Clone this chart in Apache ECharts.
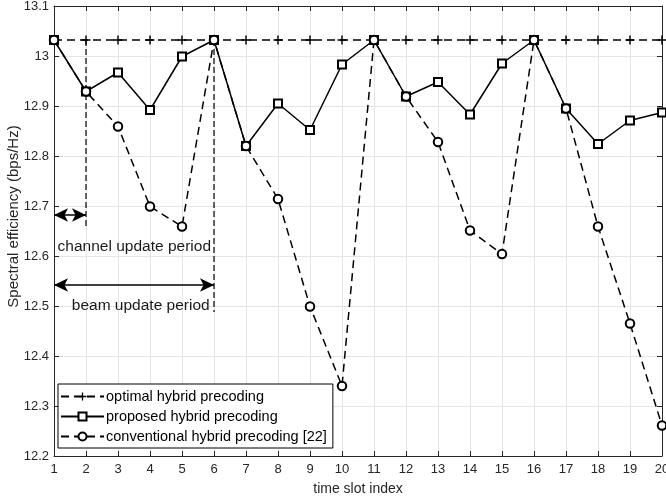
<!DOCTYPE html>
<html>
<head>
<meta charset="utf-8">
<script src="https://cdn.jsdelivr.net/npm/echarts@6/dist/echarts.min.js"></script>
<style>html,body{margin:0;padding:0;background:#fff;overflow:hidden}#c{width:666px;height:502px}</style>
</head>
<body>
<div id="c"></div>
<script>
const slots = [1,2,3,4,5,6,7,8,9,10,11,12,13,14,15,16,17,18,19,20];
const optimal = [13.032,13.032,13.032,13.032,13.032,13.032,13.032,13.032,13.032,13.032,13.032,13.032,13.032,13.032,13.032,13.032,13.032,13.032,13.032,13.032];
const proposed = [13.032,12.929,12.967,12.892,12.999,13.032,12.820,12.905,12.852,12.983,13.032,12.919,12.948,12.883,12.985,13.032,12.895,12.824,12.871,12.887];
const conventional = [13.032,12.929,12.859,12.699,12.659,13.032,12.820,12.714,12.499,12.340,13.032,12.919,12.828,12.651,12.604,13.032,12.895,12.659,12.465,12.261];
const seriesNames = ['optimal hybrid precoding','proposed hybrid precoding','conventional hybrid precoding [22]'];

// annotations
const channelLineX = [2,2], channelLineY = [13.032,12.66];
const beamLineX = [6,6], beamLineY = [13.032,12.488];
const channelArrowX = [1,2], channelArrowY = 12.682;
const beamArrowX = [1,6], beamArrowY = 12.542;
const annTexts = ['channel update period','beam update period'];
const annX = [3.51,3.71], annY = [12.618,12.5];

const pair = (xs, ys) => xs.map((x,i)=>[x, ys[i]]);
const ink = '#000';
const axisCol = '#262626';
const plus = 'path://M4.2,0h1.6v4.2h4.2v1.6h-4.2v4.2h-1.6v-4.2h-4.2v-1.6h4.2z';

const chart = echarts.init(document.getElementById('c'), null, {renderer:'canvas'});
const baseX = {type:'value', min:1, max:20, interval:1};
const baseY = {type:'value', min:12.2, max:13.1, interval:0.1};
chart.setOption({
  animation:false,
  backgroundColor:'#fff',
  textStyle:{fontFamily:'Liberation Sans, Arial, sans-serif'},
  grid:{left:54, right:4, top:6, bottom:46, containLabel:false, outerBoundsMode:'none'},
  xAxis:[
    Object.assign({}, baseX, {
      position:'bottom', name:'time slot index', nameLocation:'middle', nameGap:26,
      nameTextStyle:{fontSize:14, color:axisCol},
      axisLine:{show:true, lineStyle:{color:axisCol, width:1}},
      axisTick:{show:true, inside:true, length:5, lineStyle:{color:axisCol}},
      axisLabel:{fontSize:13, color:axisCol, margin:7},
      splitLine:{show:true, lineStyle:{color:'#e5e5e5', width:1}}
    }),
    Object.assign({}, baseX, {
      position:'top',
      axisLine:{show:true, lineStyle:{color:axisCol, width:1}},
      axisTick:{show:true, inside:true, length:5, lineStyle:{color:axisCol}},
      axisLabel:{show:false}, splitLine:{show:false}
    })
  ],
  yAxis:[
    Object.assign({}, baseY, {
      position:'left',
      axisLine:{show:true, lineStyle:{color:axisCol, width:1}},
      axisTick:{show:true, inside:true, length:5, lineStyle:{color:axisCol}},
      axisLabel:{fontSize:13, color:axisCol, margin:5, formatter:v=>String(Math.round(v*10)/10)},
      splitLine:{show:true, lineStyle:{color:'#e5e5e5', width:1}}
    }),
    Object.assign({}, baseY, {
      position:'right',
      axisLine:{show:true, lineStyle:{color:axisCol, width:1}},
      axisTick:{show:true, inside:true, length:5, lineStyle:{color:axisCol}},
      axisLabel:{show:false}, splitLine:{show:false}
    })
  ],
  legend:{
    data:seriesNames, orient:'vertical', left:58, top:384,
    backgroundColor:'#fff', borderColor:'#000', borderWidth:1,
    padding:[5,6,4,2], itemWidth:43, itemHeight:10, itemGap:5,
    textStyle:{fontSize:14.5, color:ink, padding:[0,0,0,-3]}
  },
  graphic:[{
    type:'text', x:14, y:216.5, rotation:Math.PI/2,
    style:{text:'Spectral efficiency (bps/Hz)', fontSize:15, fill:axisCol,
      font:'15px "Liberation Sans", Arial, sans-serif', align:'center', verticalAlign:'middle'}
  }],
  series:[
    {
      name:seriesNames[0], type:'line', data:pair(slots, optimal), z:3,
      symbol:plus, symbolSize:9, showAllSymbol:true,
      lineStyle:{color:ink, width:1.5, type:[8,5]},
      itemStyle:{color:ink}
    },
    {
      name:seriesNames[1], type:'line', data:pair(slots, proposed), z:4,
      symbol:'emptyRect', symbolSize:8, showAllSymbol:true,
      lineStyle:{color:ink, width:1.5, type:'solid'},
      itemStyle:{color:ink, borderColor:ink, borderWidth:1.5}
    },
    {
      name:seriesNames[2], type:'line', data:pair(slots, conventional), z:5,
      symbol:'emptyCircle', symbolSize:8.5, showAllSymbol:true,
      lineStyle:{color:ink, width:1.5, type:[8,5]},
      itemStyle:{color:ink, borderColor:ink, borderWidth:1.5}
    },
    {
      name:'channelLine', type:'line', data:pair(channelLineX, channelLineY), symbol:'none',
      lineStyle:{color:ink, width:1.2, type:[6,3]}, silent:true, z:2
    },
    {
      name:'beamLine', type:'line', data:pair(beamLineX, beamLineY), symbol:'none',
      lineStyle:{color:ink, width:1.2, type:[6,3]}, silent:true, z:2,
      markLine:{
        silent:true, symbol:['arrow','arrow'], symbolSize:[10,14],
        label:{show:false}, lineStyle:{color:ink, width:1.5, type:'solid'},
        data:[
          [{coord:[channelArrowX[0], channelArrowY]}, {coord:[channelArrowX[1], channelArrowY]}],
          [{coord:[beamArrowX[0], beamArrowY]}, {coord:[beamArrowX[1], beamArrowY]}]
        ]
      }
    },
    {
      name:'annotations', type:'scatter', silent:true, z:6,
      data:annTexts.map((t,i)=>({name:t, value:[annX[i], annY[i]]})),
      symbolSize:1, itemStyle:{color:'rgba(0,0,0,0)', opacity:1},
      label:{show:true, position:'inside', formatter:p=>p.name, fontSize:15.5, color:'#1a1a1a', textBorderWidth:0, opacity:1}
    }
  ]
});
</script>
</body>
</html>
